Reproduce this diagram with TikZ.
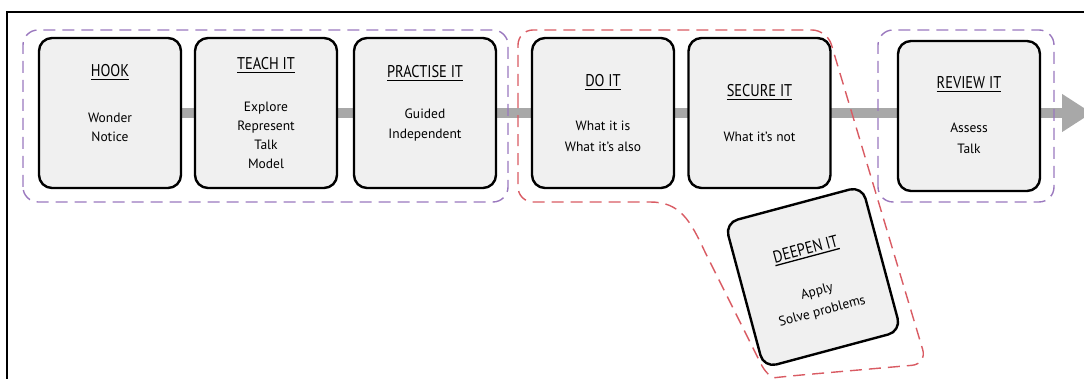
\documentclass[tikz,border=0pt]{standalone}
\usepackage{fontspec}
\setmainfont{PT Sans}
\usetikzlibrary{arrows.meta}
\pgfdeclarelayer{bg}
\pgfsetlayers{bg,main}
\definecolor{boxfill}{HTML}{F0F0F0}
\definecolor{flowgray}{HTML}{A8A8A8}
\definecolor{grppurple}{HTML}{9A78BE}
\definecolor{grpred}{HTML}{D95B63}
\newcommand\uttl[1]{\setbox0\hbox{\scalebox{0.85}[1]{#1}}\rlap{\rule[-3pt]{\wd0}{1.3pt}}\box0}
\begin{document}
\begin{tikzpicture}[x=1pt,y=1pt,
  stage/.style={draw=black, line width=2.4pt, fill=boxfill, rounded corners=13pt,
    minimum width=142pt, minimum height=150pt, inner sep=0pt},
  ttl/.style={anchor=base, font=\fontsize{17}{19}\selectfont, inner sep=0pt},
  txt/.style={anchor=base, font=\fontsize{13.5}{16}\selectfont, inner sep=0pt},
  grp/.style={dash pattern=on 12pt off 7pt, line width=1.4pt},
  flow/.style={draw=flowgray, line width=10pt, -{Triangle[length=30pt,width=36pt]}}]
\useasboundingbox (0,0) rectangle (1084,379);
% frame
\draw[line width=1.5pt] (7,-5) -- (7,367) -- (1090,367);
% stages
\node[stage] (hook) at (110,266) {};
\node[stage] (teach) at (266,266) {};
\node[stage] (practise) at (425,266) {};
\node[stage] (doit) at (603,266) {};
\node[stage] (secure) at (759.5,266) {};
\node[stage] (review) at (969,263) {};
\coordinate (flowend) at (1092,266);
% flow arrow behind the boxes
\begin{pgfonlayer}{bg}
\draw[flow] (hook.center) -- (flowend);
\end{pgfonlayer}
% groups
\draw[grp, grppurple, rounded corners=15pt] (23,177) rectangle (508,349);
\draw[grp, grppurple, rounded corners=15pt] (878,177) rectangle (1054,349);
\draw[grp, grpred] (518,259) [rounded corners=15pt] -- (518,349) -- (827,349) -- (927,15) -- (790,3)
  [sharp corners] .. controls (772,1) and (765,6) .. (760,17) -- (705,127)
  .. controls (690,159) and (680,177) .. (650,177) [rounded corners=15pt] -- (518,177) -- cycle;
% deepen
\begin{scope}[shift={(813,102)}, rotate=15, transform shape]
\node[stage] (deepen) at (0,0) {};
\node[ttl] (deepenT) at (0,23) {\uttl{DEEPEN IT}};
\node[txt] (deepen1) at (0,-19) {Apply};
\node[txt] (deepen2) at (0,-39.5) {Solve problems};
\end{scope}
% texts
\node[ttl] (hookT) at (110,302) {\uttl{HOOK}};
\node[txt] (hook1) at (110,256) {Wonder};
\node[txt] (hook2) at (110,237) {Notice};
\node[ttl] (teachT) at (266,309) {\uttl{TEACH IT}};
\node[txt] (teach1) at (266,267) {Explore};
\node[txt] (teach2) at (266,248) {Represent};
\node[txt] (teach3) at (266,229) {Talk};
\node[txt] (teach4) at (266,210) {Model};
\node[ttl] (practiseT) at (425,301) {\uttl{PRACTISE IT}};
\node[txt] (practise1) at (425,260) {Guided};
\node[txt] (practise2) at (425,240) {Independent};
\node[ttl] (doitT) at (603,292) {\uttl{DO IT}};
\node[txt] (doit1) at (603,248) {What it is};
\node[txt] (doit2) at (603,227) {What it’s also};
\node[ttl] (secureT) at (759.5,282) {\uttl{SECURE IT}};
\node[txt] (secure1) at (759.5,237) {What it’s not};
\node[ttl] (reviewT) at (969,290) {\uttl{REVIEW IT}};
\node[txt] (review1) at (969,246) {Assess};
\node[txt] (review2) at (969,225) {Talk};
\end{tikzpicture}
\end{document}
